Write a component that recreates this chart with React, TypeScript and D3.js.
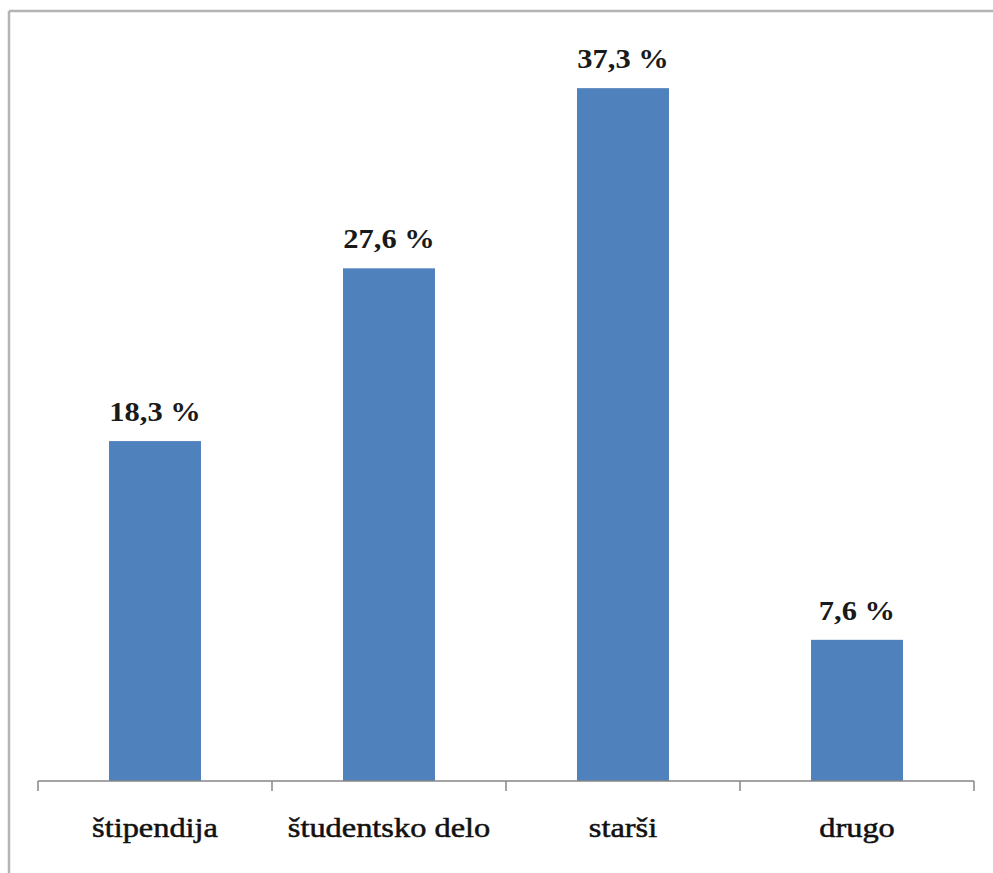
import React from "react";
import * as d3 from "d3";

const categories = ["štipendija", "študentsko delo", "starši", "drugo"];
const values = [18.3, 27.6, 37.3, 7.6];
const valueLabels = ["18,3 %", "27,6 %", "37,3 %", "7,6 %"];

export default function App() {
  const W = 993, H = 873;
  const x0 = 38, x1 = 974, yBase = 781, yTop = 38;
  const x = d3.scaleBand<string>().domain(categories).range([x0, x1]).paddingInner(0.607).paddingOuter(0.3035);
  const y = d3.scaleLinear().domain([0, 40]).range([yBase, yTop]);
  const band = d3.scaleBand<string>().domain(categories).range([x0, x1]);
  const tickXs = categories.map((c) => band(c)!).concat([x1]);
  const font = "'Liberation Serif', 'Times New Roman', serif";
  return (
    <svg width={W} height={H} style={{ position: "absolute", left: 0, top: 0, background: "#fff" }}>
      <line x1={9} x2={W} y1={11} y2={11} stroke="#b4b4b4" strokeWidth={2.5} />
      <line x1={9} x2={9} y1={11} y2={H} stroke="#b4b4b4" strokeWidth={2.5} />
      {categories.map((c, i) => (
        <rect key={c} x={x(c)} y={y(values[i])} width={x.bandwidth()} height={yBase - y(values[i])} fill="#4F81BD" />
      ))}
      <line x1={x0} x2={x1} y1={yBase} y2={yBase} stroke="#868686" strokeWidth={1.5} />
      {tickXs.map((t, i) => (
        <line key={i} x1={t} x2={t} y1={yBase} y2={yBase + 10} stroke="#868686" strokeWidth={1.5} />
      ))}
      {categories.map((c, i) => {
        const cx = band(c)! + band.bandwidth() / 2;
        return (
          <g key={"l" + c}>
            <g transform={`translate(${cx},${y(values[i]) - 20}) scale(1.13,1)`}>
              <text textAnchor="middle" fontFamily={font} fontWeight="bold" fontSize={27} fill="#1a1a1a">
                {valueLabels[i]}
              </text>
            </g>
            <g transform={`translate(${cx},${837}) scale(1.2,1)`}>
              <text textAnchor="middle" fontFamily={font} fontSize={27} fill="#111" stroke="#111" strokeWidth={0.5}>
                {c}
              </text>
            </g>
          </g>
        );
      })}
    </svg>
  );
}
